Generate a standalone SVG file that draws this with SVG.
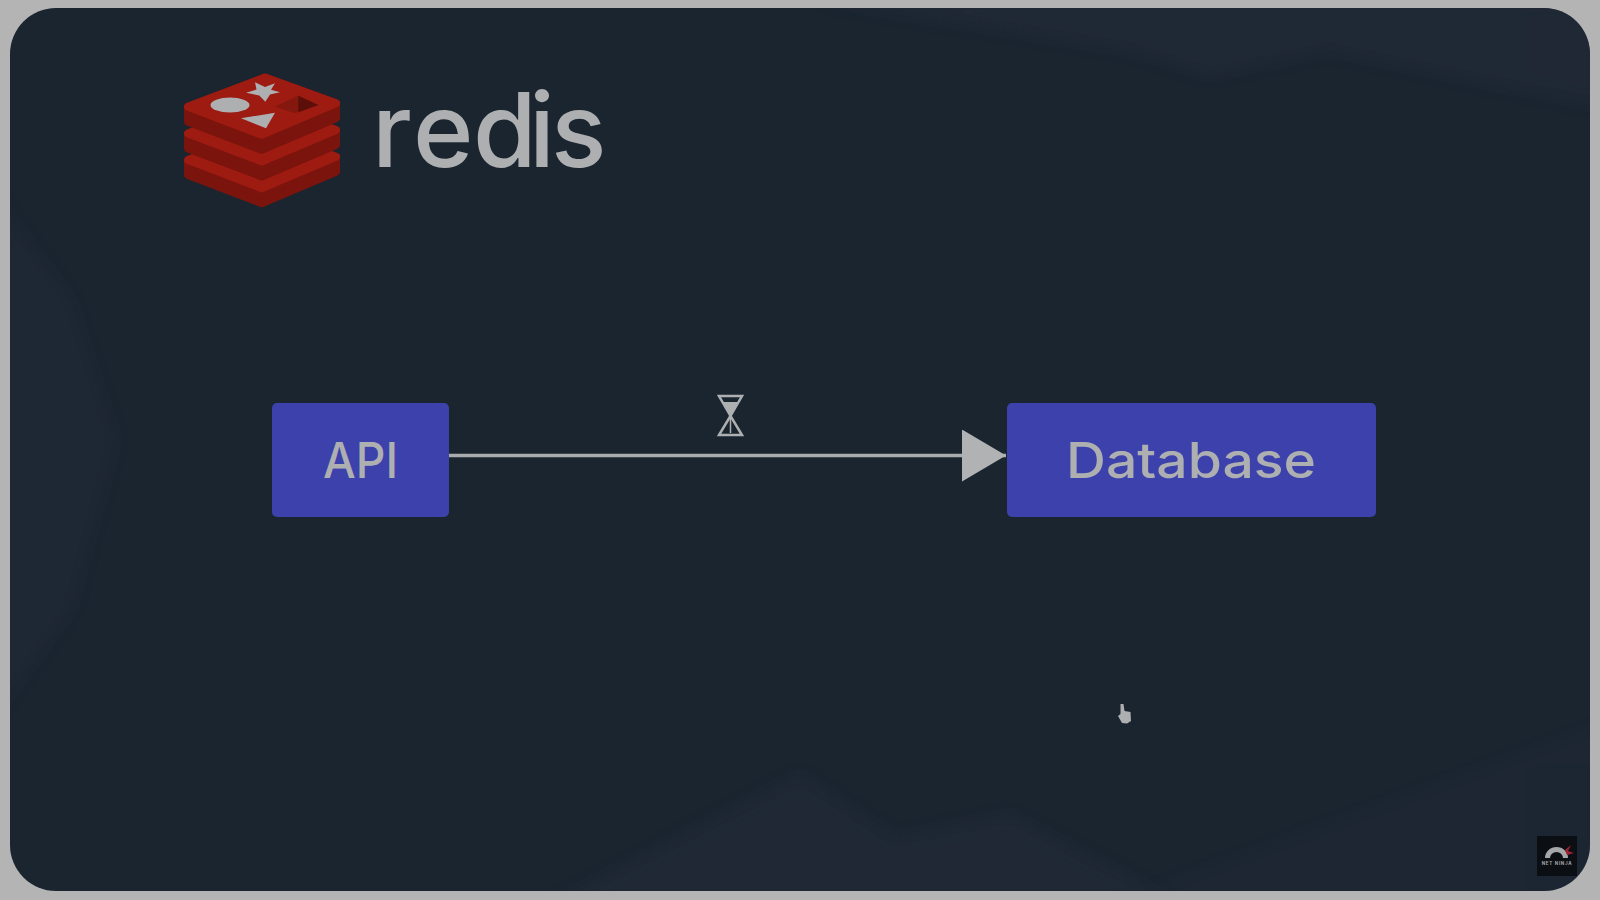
<svg xmlns="http://www.w3.org/2000/svg" width="1600" height="900" viewBox="0 0 1600 900">
<style>
.box{fill:#3d41ac}
.label{font-family:Inter,"Liberation Sans",sans-serif;font-weight:550;fill:#adafb1;text-anchor:middle}
.soft{fill:#202b37}
.grey{fill:#adafb1}
</style>
<defs>
<marker id="head" markerUnits="userSpaceOnUse" markerWidth="44" markerHeight="52" refX="44" refY="26" orient="auto"><polygon points="0,0 44,26 0,52" fill="#b1b2b3"/></marker>
<clipPath id="panel"><rect x="10" y="8" width="1580" height="883" rx="46"/></clipPath>
<filter id="blur" x="-20%" y="-20%" width="140%" height="140%"><feGaussianBlur stdDeviation="7"/></filter>
<filter id="soften" x="-20%" y="-20%" width="140%" height="140%"><feGaussianBlur stdDeviation="0.600"/></filter>
<g id="slab">
<path d="M188 106.700 L265 77.500 L336 103.300 L336 118.300 L261.700 149.800 L188 121.700 Z" fill="#7a140c" stroke="#7a140c" stroke-width="8" stroke-linejoin="round"/>
<path d="M188 106.700 L265 77.500 L336 103.300 L261.700 134.800 Z" fill="#9e1b12" stroke="#9e1b12" stroke-width="8" stroke-linejoin="round"/>
</g>
</defs>
<rect width="1600" height="900" fill="#b4b4b4"/>
<rect x="10" y="8" width="1580" height="883" rx="46" fill="#1b2530"/>
<g id="background" clip-path="url(#panel)">
<path class="soft" filter="url(#blur)" d="M820 0 L1130 50 L1210 75 L1330 50 L1620 110 L1620 0 Z" opacity=".65"/>
<path class="soft" filter="url(#blur)" d="M-10 190 L70 300 L115 440 L70 610 L-10 720 Z" opacity=".5"/>
<path class="soft" filter="url(#blur)" d="M540 910 L800 775 L895 838 L1010 815 L1190 910 Z" opacity=".6"/>
<path class="soft" filter="url(#blur)" d="M1100 910 L1620 720 L1620 910 Z" opacity=".3"/>
</g>
<g id="redis-logo">
<use href="#slab" y="53.400"/>
<use href="#slab" y="26.700"/>
<use href="#slab"/>
<ellipse class="grey" cx="230" cy="105" rx="19.500" ry="7.500"/>
<polygon class="grey" points="241,118.300 275,112.700 266,128.300"/>
<polygon class="grey" points="255,82.300 265,87 275,83.300 271,89.800 280,92.300 270,94.500 265.300,101.700 259.300,95.500 246,92.700 256.500,89.500"/>
<polygon points="275,106.700 298.300,95.700 318.300,105 295,113.300" fill="#84170e"/>
<polygon points="298.300,95.700 318.300,105 298.300,112.300" fill="#5c0f09"/>
<text x="372 413 473 529 551" y="167" font-size="103" font-family="Inter,'Liberation Sans',sans-serif" font-weight="500" fill="#adafb1">redis</text>
</g>
<g id="connectors">
<line x1="449" y1="455.500" x2="1006" y2="455.500" stroke="#a9abac" stroke-width="3.500" marker-end="url(#head)"/>
</g>
<g id="node-api">
<rect class="box" x="272" y="403" width="177" height="114" rx="5"/>
<text class="label" x="360.500" y="478" font-size="49" textLength="75" lengthAdjust="spacingAndGlyphs">API</text>
</g>
<g id="node-database">
<rect class="box" x="1007" y="403" width="369" height="114" rx="5"/>
<text class="label" x="1191" y="478" font-size="49" textLength="250" lengthAdjust="spacingAndGlyphs">Database</text>
</g>
<g id="hourglass" fill="none" stroke="#adafb1" stroke-width="2.500">
<path d="M719 396 H742 L730.500 416 L742 435 H719 L730.500 416 Z"/>
<path d="M723 402 H738 L730.500 416 Z" fill="#adafb1" stroke="none"/>
<path d="M730.500 418 V433" stroke-width="1.500"/>
</g>
<g id="cursor" filter="url(#soften)">
<path d="M1120.500 704 L1123.500 704 L1124.500 711 L1130.500 712 L1131 721 L1127 723.500 L1122 723 L1118 716 L1120.500 714 Z" fill="#adafb1"/>
</g>
<g id="watermark">
<rect x="1537" y="836" width="40" height="40" fill="#0b0e12"/>
<path d="M1545 858 A11.500 11 0 0 1 1568 858 L1563 858 A6.500 6 0 0 0 1550 858 Z" fill="#a5a7a9"/>
<path d="M1565 850 L1571 845 L1568 851 L1574 853 L1567 855 Z" fill="#a01f35"/>
<text x="1557" y="865" font-size="4.500" font-family="Inter,'Liberation Sans',sans-serif" font-weight="700" fill="#a5a7a9" text-anchor="middle" letter-spacing="0.700">NET NINJA</text>
</g>
</svg>
